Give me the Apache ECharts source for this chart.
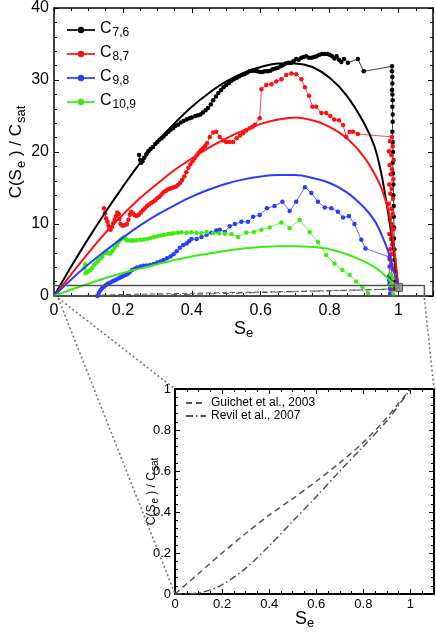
<!DOCTYPE html>
<html><head><meta charset="utf-8">
<script src="https://cdn.jsdelivr.net/npm/echarts@6/dist/echarts.min.js"></script>
<style>html,body{margin:0;padding:0;background:#fff}#c{width:436px;height:636px}</style>
</head><body><div id="c"></div>
<script>
// ---------- data ----------
const modelX = [0,0.05,0.1,0.15,0.2,0.25,0.3,0.35,0.4,0.45,0.5,0.55,0.6,0.65,0.7,0.75,0.8,0.85,0.9,0.93,0.95,0.97,0.98,0.99,1.0];
const model76  = [0,4.1,8,11.7,15.2,18.5,21.4,24,26.3,28.2,29.8,31,31.8,32.3,32.3,31.8,30.3,27.8,24,20.8,17,11.5,8.3,4.7,1];
const model87  = [0,3,6,8.8,11.3,13.6,15.6,17.5,19.1,20.6,21.9,23,23.9,24.5,24.8,24.4,23.5,21.9,19.3,17,15,12,9.2,5.5,1];
const model98  = [0,2.3,4.4,6.3,8.1,9.8,11.3,12.6,13.8,14.8,15.6,16.2,16.6,16.8,16.8,16.4,15.7,14.4,12.3,10.5,8.6,6.2,4.6,2.8,1];
const model109 = [0,0.9,1.7,2.5,3.2,3.8,4.4,5,5.5,5.9,6.3,6.6,6.8,6.9,6.9,6.8,6.5,5.8,4.8,4,3.3,2.4,1.9,1.4,1];

const data76 = [[0.247,19.6],[0.250,18.9],[0.253,18.5],[0.257,18.7],[0.262,19.2],[0.268,19.7],[0.274,20.1],[0.28,20.4],[0.287,20.7],[0.294,21.1],[0.30,21.4],[0.306,21.7],[0.312,21.9],[0.318,22.2],[0.325,22.5],[0.332,22.8],[0.338,23.1],[0.345,23.3],[0.352,23.6],[0.36,23.8],[0.368,24.1],[0.376,24.3],[0.385,24.5],[0.393,24.7],[0.40,24.8],[0.41,25],[0.418,25.1],[0.425,25.2],[0.432,25.5],[0.44,25.8],[0.447,26.1],[0.455,26.6],[0.462,27.2],[0.47,27.7],[0.477,28.2],[0.485,28.6],[0.492,29],[0.50,29.3],[0.508,29.6],[0.515,29.9],[0.522,30.1],[0.53,30.3],[0.537,30.5],[0.545,30.7],[0.553,30.8],[0.56,31],[0.568,31.2],[0.575,31.3],[0.583,31.3],[0.59,31.2],[0.598,31.1],[0.605,31.1],[0.612,31.2],[0.62,31.2],[0.628,31.3],[0.635,31.5],[0.643,31.6],[0.65,31.7],[0.658,31.9],[0.665,32.1],[0.672,32.3],[0.68,32.4],[0.688,32.4],[0.695,32.6],[0.703,32.9],[0.71,32.8],[0.718,33.1],[0.725,33.2],[0.732,33.3],[0.74,33.1],[0.748,33.1],[0.755,33.2],[0.762,33.3],[0.77,33.5],[0.778,33.6],[0.785,33.6],[0.793,33.6],[0.80,33.5],[0.807,33.3],[0.814,33.0],[0.82,33.3],[0.827,32.8],[0.834,32.5],[0.842,32.9],[0.853,32.4],[0.882,32.9],[0.899,31.2],[0.981,31.9],[0.981,31.2],[0.982,30.4],[0.982,29.5],[0.981,28.6],[0.982,28.0],[0.983,27.2],[0.982,26.3],[0.983,25.2],[0.983,24.2],[0.982,22.8],[0.983,21.4],[0.984,20],[0.983,18.5],[0.984,17],[0.985,15.5],[0.985,14],[0.986,12.5],[0.986,11],[0.987,9.5],[0.987,8],[0.988,6.5],[0.988,5],[0.989,3.5],[0.989,2.2],[0.99,1]];

const data87 = [[0.145,12.2],[0.148,11.5],[0.151,10.8],[0.155,10.3],[0.158,9.8],[0.161,9.4],[0.164,9.2],[0.168,9.6],[0.172,10.1],[0.176,10.6],[0.18,11.1],[0.184,11.6],[0.188,11.4],[0.19,10.7],[0.193,10],[0.198,9.8],[0.203,9.8],[0.208,9.9],[0.212,10],[0.216,10.6],[0.22,11.3],[0.224,11.7],[0.229,11.5],[0.234,11.2],[0.24,11.1],[0.246,11.3],[0.252,11.6],[0.258,11.9],[0.264,12.2],[0.27,12.5],[0.276,12.7],[0.282,12.9],[0.288,13.1],[0.294,13.3],[0.3,13.6],[0.306,13.8],[0.312,14.1],[0.318,14.4],[0.324,14.6],[0.33,14.8],[0.336,14.9],[0.342,15],[0.348,15.1],[0.354,15.2],[0.36,15.4],[0.366,15.7],[0.372,16.1],[0.378,16.6],[0.384,17.2],[0.39,17.8],[0.396,18.3],[0.402,18.7],[0.408,19.1],[0.414,19.5],[0.42,19.9],[0.426,20.2],[0.432,20.5],[0.438,20.8],[0.444,21.2],[0.452,22.1],[0.462,22.7],[0.471,22.8],[0.481,22.1],[0.49,21.6],[0.50,21.4],[0.51,21.4],[0.52,21.4],[0.53,21.9],[0.54,22.3],[0.549,22.6],[0.558,23],[0.568,23.3],[0.576,23.5],[0.583,23.8],[0.597,24.7],[0.602,28.7],[0.616,29.3],[0.631,29.4],[0.645,29.8],[0.66,30.1],[0.674,30.7],[0.689,30.9],[0.703,30.8],[0.718,30.1],[0.728,29],[0.74,27.8],[0.75,26.3],[0.761,26.3],[0.776,25.4],[0.79,25.4],[0.802,25],[0.813,24.5],[0.827,24.4],[0.839,23.75],[0.848,22.1],[0.858,22.8],[0.868,22.8],[0.882,22.5],[0.981,22.1],[0.975,21.5],[0.983,20.8],[0.972,20.1],[0.979,19.6],[0.986,18.9],[0.974,18.2],[0.981,17.6],[0.977,16.9],[0.985,16.2],[0.973,15.5],[0.98,14.9],[0.976,14.2],[0.984,13.5],[0.972,12.8],[0.979,12.1],[0.983,11.4],[0.975,10.7],[0.98,10],[0.986,9.3],[0.973,8.6],[0.978,7.9],[0.982,7.2],[0.976,6.5],[0.98,5.8],[0.974,5.1],[0.979,4.4],[0.983,3.7],[0.977,3],[0.981,2.3],[0.979,1.6],[0.98,0.9]];

const data98 = [[0.126,0],[0.13,0.4],[0.135,0.8],[0.14,1.1],[0.145,1.3],[0.15,1.5],[0.156,1.7],[0.162,1.85],[0.169,2],[0.175,2.15],[0.181,2.3],[0.188,2.45],[0.194,2.6],[0.2,2.75],[0.208,2.9],[0.214,3.1],[0.22,3.35],[0.227,3.6],[0.234,3.8],[0.241,3.95],[0.251,4.1],[0.26,4.2],[0.27,4.25],[0.28,4.3],[0.29,4.45],[0.3,4.65],[0.309,4.8],[0.318,5],[0.328,5.25],[0.338,5.5],[0.347,5.8],[0.356,6.2],[0.365,6.7],[0.375,7.1],[0.385,7.3],[0.392,7.6],[0.399,7.9],[0.414,7.9],[0.428,8.2],[0.443,8.5],[0.457,8.8],[0.471,9.1],[0.481,9.2],[0.496,8.9],[0.51,9.7],[0.525,10],[0.544,10.3],[0.563,10.3],[0.578,11],[0.597,11.25],[0.618,12.2],[0.64,12.5],[0.663,13.1],[0.684,11.8],[0.703,13.1],[0.728,15.1],[0.747,14.3],[0.766,13.1],[0.786,12.3],[0.805,12.2],[0.824,11.7],[0.839,10.9],[0.856,11.1],[0.872,10],[0.892,7.8],[0.904,6.6],[0.974,5.4],[0.974,4.1],[0.972,2.7],[0.973,2.2],[0.974,1.7],[0.975,1.0],[0.975,0.3]];

const data109 = [[0.087,3.85],[0.09,4.4],[0.092,3.15],[0.096,3.3],[0.1,3.5],[0.106,3.6],[0.111,3.9],[0.116,4.3],[0.122,4.6],[0.128,4.9],[0.135,5.2],[0.14,5.5],[0.145,5.9],[0.15,6.15],[0.155,6.0],[0.16,5.9],[0.164,5.9],[0.17,6.3],[0.176,6.7],[0.183,7.1],[0.188,7.5],[0.193,7.8],[0.198,8.0],[0.203,8.15],[0.208,7.9],[0.212,7.7],[0.22,7.7],[0.226,7.7],[0.232,7.7],[0.24,7.75],[0.251,7.8],[0.26,7.85],[0.27,7.9],[0.28,8.05],[0.29,8.2],[0.3,8.3],[0.31,8.4],[0.319,8.5],[0.33,8.6],[0.34,8.65],[0.348,8.7],[0.36,8.8],[0.37,8.85],[0.385,8.8],[0.399,8.85],[0.414,8.8],[0.428,8.7],[0.443,8.9],[0.462,8.7],[0.479,8.7],[0.496,8.65],[0.515,8.6],[0.534,8.2],[0.558,8.8],[0.58,8.9],[0.602,9.2],[0.626,9.5],[0.66,10.2],[0.684,9.4],[0.713,10.55],[0.742,8.9],[0.766,7.5],[0.79,5.7],[0.814,4.5],[0.837,3.6],[0.858,2.9],[0.877,2],[0.895,1.3],[0.911,0.4],[0.93,-0.5],[0.95,-1.2],[0.975,-0.5],[0.976,1.5],[0.977,3],[0.978,1.5],[0.985,0.2],[0.985,2.5]];

// inset curves
const insetX  = [0,0.05,0.1,0.15,0.2,0.3,0.4,0.5,0.6,0.7,0.8,0.9,0.95,1.0];
const guichet = [0,0.05,0.1,0.15,0.2,0.295,0.385,0.465,0.55,0.64,0.74,0.86,0.93,1.0];
const revil   = [0,0,0.005,0.02,0.045,0.125,0.235,0.355,0.475,0.6,0.72,0.845,0.92,1.0];

// zoom box + marker (main plot coords)
const zoomBox = [[0,0],[1.075,0],[1.075,1.45],[0,1.45],[0,0]];
const markerPt = [[1,1.2]];
// connectors: main-plot point -> inset point
const connectFrom = [[0.012,0],[0.012,0],[1.075,0]];
const connectTo   = [[0,0],[0,1],[1.1,1]];

const seriesNames = ['C 7,6','C 8,7','C 9,8','C 10,9'];
const colors = ['#000000','#ff1010','#2a3cff','#3dea12'];

// ---------- chart ----------
const FF = "'Liberation Sans', Arial, sans-serif";
const chart = echarts.init(document.getElementById('c'), null, {renderer:'canvas'});
const zip = (xs, ys) => xs.map((x,i)=>[x, ys[i]]);
const fmt = v => (v===0?'0':(Math.abs(v-1)<1e-9?'1':v.toFixed(1)));

function mkX(grid, pos, show, fs, lw, margin) {
  return {type:'value', gridIndex:grid, position:pos, min:0, max:1.1, interval:0.2,
    axisLine:{show:true, onZero:false, lineStyle:{color:'#000', width:lw}},
    axisTick:{show:true, inside:true, length:5, lineStyle:{color:'#000', width:1}},
    minorTick:{show:true, splitNumber:4, length:3, lineStyle:{color:'#000'}},
    splitLine:{show:false}, nameMoveOverlap:false,
    axisLabel:{show:show, formatter:fmt, fontSize:fs, color:'#000', fontFamily:FF, margin:margin, showMaxLabel:false}};
}
function mkY(grid, pos, show, max, interval, fs, lw, fmtf, margin) {
  return {type:'value', gridIndex:grid, position:pos, min:0, max:max, interval:interval,
    axisLine:{show:true, onZero:false, lineStyle:{color:'#000', width:lw}},
    axisTick:{show:true, inside:true, length:5, lineStyle:{color:'#000', width:1}},
    minorTick:{show:true, splitNumber:5, length:3, lineStyle:{color:'#000'}},
    splitLine:{show:false}, nameMoveOverlap:false,
    axisLabel:{show:show, formatter:fmtf, fontSize:fs, color:'#000', fontFamily:FF, margin:margin}};
}

const xMain = mkX(0,'bottom',true,16,1.5,7);
xMain.name = '{t|S}{s|e}'; xMain.nameLocation='middle'; xMain.nameGap=24;
xMain.nameTextStyle = {fontFamily:FF, color:'#000', rich:{t:{fontSize:18, fontFamily:FF, lineHeight:20, verticalAlign:'top'}, s:{fontSize:13, fontFamily:FF, lineHeight:13, padding:[10,0,0,0], verticalAlign:'bottom'}}};
const xInset = mkX(1,'bottom',true,13,2,4);
xInset.name = '{t|S}{s|e}'; xInset.nameLocation='middle'; xInset.nameGap=16;
xInset.nameTextStyle = {fontFamily:FF, color:'#000', rich:{t:{fontSize:18, fontFamily:FF, lineHeight:20, verticalAlign:'top'}, s:{fontSize:13, fontFamily:FF, lineHeight:13, padding:[10,0,0,0], verticalAlign:'bottom'}}};

const yMain = mkY(0,'left',true,40,10,16,1.5,v=>String(v),5);
yMain.name = '{t|C(S}{s|e}{t| ) / C}{s|sat}'; yMain.nameLocation='middle'; yMain.nameGap=26; yMain.nameRotate=90;
yMain.nameTextStyle = {fontFamily:FF, color:'#000', rich:{t:{fontSize:17, fontFamily:FF, lineHeight:20, verticalAlign:'top'}, s:{fontSize:13, fontFamily:FF, lineHeight:13, padding:[10,0,0,1], verticalAlign:'bottom'}}};
const yInset = mkY(1,'left',true,1,0.2,13,2,fmt,4);
yInset.name = '{t|C(S}{s|e}{t| ) / C}{s|sat}'; yInset.nameLocation='middle'; yInset.nameGap=15; yInset.nameRotate=90;
yInset.nameTextStyle = {fontFamily:FF, color:'#000', rich:{t:{fontSize:12, fontFamily:FF, lineHeight:14, verticalAlign:'top'}, s:{fontSize:10, fontFamily:FF, lineHeight:10, padding:[7,0,0,1], verticalAlign:'bottom'}}};

const dataSets = [data76, data87, data98, data109];
const models = [model76, model87, model98, model109];

const series = [];
dataSets.forEach((d,i)=>{
  series.push({name:seriesNames[i], type:'line', xAxisIndex:0, yAxisIndex:0, data:d,
    symbol:'circle', symbolSize:4.5, showSymbol:true, clip:true,
    itemStyle:{color:colors[i]}, lineStyle:{color:colors[i], width:0.9, opacity:0.85}, z:3});
});
models.forEach((m,i)=>{
  series.push({name:'model'+i, type:'line', xAxisIndex:0, yAxisIndex:0, data:zip(modelX,m),
    symbol:'none', smooth:0.35, clip:true, lineStyle:{color:colors[i], width:2}, z:4});
});
// inset curves shown compressed in main plot
series.push({name:'g_main', type:'line', xAxisIndex:0, yAxisIndex:0, data:zip(insetX,guichet), symbol:'none', smooth:0.3,
  lineStyle:{color:'#555', width:1, type:[5,3]}, z:2});
series.push({name:'r_main', type:'line', xAxisIndex:0, yAxisIndex:0, data:zip(insetX,revil), symbol:'none', smooth:0.3,
  lineStyle:{color:'#555', width:1, type:[6,3,1,3]}, z:2});
series.push({name:'box', type:'line', xAxisIndex:0, yAxisIndex:0, data:zoomBox, symbol:'none',
  lineStyle:{color:'#555', width:1.5}, z:5});
series.push({name:'marker', type:'scatter', xAxisIndex:0, yAxisIndex:0, data:markerPt, symbol:'rect', symbolSize:8,
  itemStyle:{color:'#888', borderColor:'#444', borderWidth:1}, z:6});
// inset
series.push({name:'Guichet et al., 2003', type:'line', xAxisIndex:2, yAxisIndex:2, data:zip(insetX,guichet), symbol:'none', smooth:0.3,
  itemStyle:{color:'#555'}, lineStyle:{color:'#555', width:1.5, type:[6,4]}});
series.push({name:'Revil et al., 2007', type:'line', xAxisIndex:2, yAxisIndex:2, data:zip(insetX,revil), symbol:'none', smooth:0.3,
  itemStyle:{color:'#555'}, lineStyle:{color:'#555', width:1.5, type:[7,3,1.5,3]}});

const option = {
  animation:false,
  backgroundColor:'#fff',
  grid:[{left:54, top:8, width:379, height:288, containLabel:false, outerBoundsMode:'none'},
        {left:175, top:389, width:259, height:205, containLabel:false, outerBoundsMode:'none'}],
  xAxis:[xMain, mkX(0,'top',false,16,1.5,7), xInset, mkX(1,'top',false,13,2,4)],
  yAxis:[yMain, mkY(0,'right',false,40,10,16,1.5,v=>v,5), yInset, mkY(1,'right',false,1,0.2,13,2,fmt,4)],
  legend:[
    {data:seriesNames, orient:'vertical', left:61, top:12, itemWidth:28, itemHeight:8, itemGap:2,
      formatter: n => '{c|C}{s|' + n.slice(2) + '}',
      textStyle:{color:'#000', fontFamily:FF, rich:{c:{fontSize:16, fontFamily:FF, lineHeight:18, verticalAlign:'top'}, s:{fontSize:12, fontFamily:FF, lineHeight:12, padding:[10,0,0,1], verticalAlign:'bottom'}}}},
    {data:['Guichet et al., 2003','Revil et al., 2007'], orient:'vertical', left:180, top:392, itemWidth:20, itemHeight:6, itemGap:1,
      itemStyle:{opacity:0},
      textStyle:{color:'#000', fontFamily:FF, fontSize:12}}
  ],
  series: series
};
chart.setOption(option);

// connector lines between zoom box and inset
const gfx = connectFrom.map((f,i)=>{
  const a = chart.convertToPixel({gridIndex:0}, f);
  const b = chart.convertToPixel({gridIndex:1}, connectTo[i]);
  return {type:'line', shape:{x1:a[0], y1:a[1]+2, x2:b[0], y2:b[1]}, z:1,
    style:{stroke:'#777', lineWidth:1.6, lineDash:[2,2.5]}};
});
chart.setOption({graphic: gfx});
</script></body></html>
